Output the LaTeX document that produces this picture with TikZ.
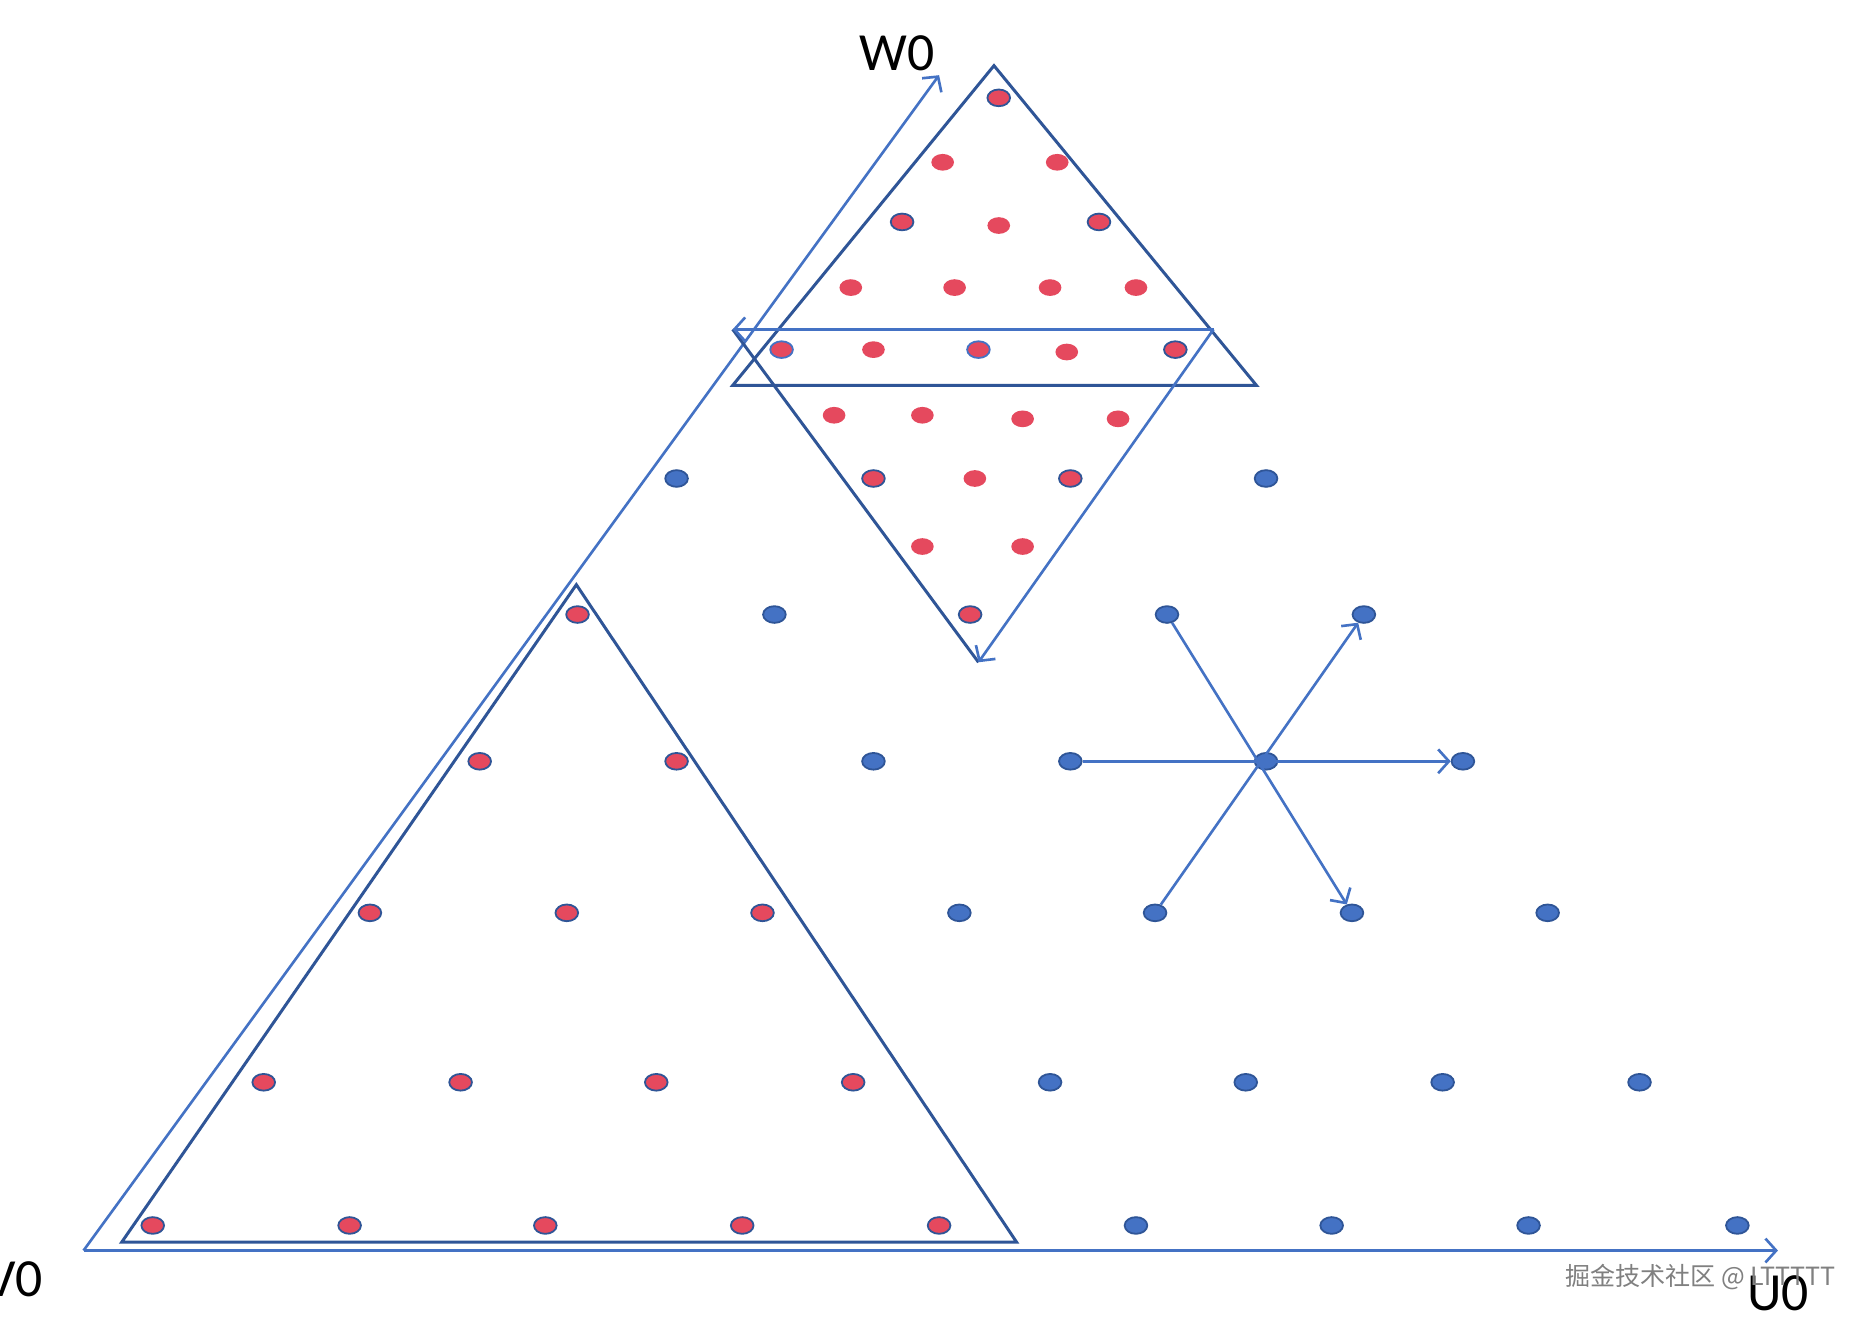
\documentclass[tikz,border=0pt]{standalone}
\usepackage{fontspec}
\setmainfont{Carlito}
\newfontfamily\cjkfont{Noto Sans CJK SC}
\usetikzlibrary{shapes.geometric,arrows.meta}
\definecolor{lblue}{HTML}{4472C4}
\definecolor{dblue}{HTML}{2F5597}
\definecolor{dotred}{HTML}{E5495E}
\begin{document}
\begin{tikzpicture}[x=1pt,y=-1pt,
  dotbase/.style={ellipse,inner sep=0pt,minimum width=19pt,minimum height=14pt},
  bdot/.style={dotbase,fill=lblue,draw=dblue,line width=1.5pt},
  rdot/.style={dotbase,fill=dotred,draw=dblue,line width=1.5pt},
  rldot/.style={dotbase,fill=dotred,draw=lblue,line width=1.5pt},
  pdot/.style={dotbase,fill=dotred},
  darkline/.style={draw=dblue,line width=2.5pt,line join=miter},
  lightline/.style={draw=lblue,line width=2.2pt},
  arr/.style={lightline,-{Straight Barb[length=9pt,width=20pt]}},
  lbl/.style={font=\fontsize{45}{50}\selectfont,text=black,inner sep=0pt}]
\useasboundingbox (0,0) rectangle (1568,1109);
\fill[white] (0,0) rectangle (1568,1109);

% ---- dots ----
\node[rdot]  (t1)  at (837,82)  {};
\node[pdot]  (t2)  at (790,136) {};
\node[pdot]  (t3)  at (886,136) {};
\node[rdot]  (t4)  at (756,186) {};
\node[pdot]  (t5)  at (837,189) {};
\node[rdot]  (t6)  at (921,186) {};
\node[pdot]  (t7)  at (713,241) {};
\node[pdot]  (t8)  at (800,241) {};
\node[pdot]  (t9)  at (880,241) {};
\node[pdot]  (t10) at (952,241) {};
\node[rldot] (t11) at (655,293) {};
\node[pdot]  (t12) at (732,293) {};
\node[rldot] (t13) at (820,293) {};
\node[pdot]  (t14) at (894,295) {};
\node[rdot]  (t15) at (985,293) {};
\node[pdot]  (t16) at (699,348) {};
\node[pdot]  (t17) at (773,348) {};
\node[pdot]  (t18) at (857,351) {};
\node[pdot]  (t19) at (937,351) {};
\node[bdot]  (a1)  at (567,401) {};
\node[rdot]  (a2)  at (732,401) {};
\node[pdot]  (a3)  at (817,401) {};
\node[rdot]  (a4)  at (897,401) {};
\node[bdot]  (a5)  at (1061,401) {};
\node[pdot]  (t20) at (773,458) {};
\node[pdot]  (t21) at (857,458) {};
\node[rdot]  (b1)  at (484,515) {};
\node[bdot]  (b2)  at (649,515) {};
\node[rdot]  (b3)  at (813,515) {};
\node[bdot]  (b4)  at (978,515) {};
\node[bdot]  (b5)  at (1143,515) {};
\node[rdot]  (c1)  at (402,638) {};
\node[rdot]  (c2)  at (567,638) {};
\node[bdot]  (c3)  at (732,638) {};
\node[bdot]  (c4)  at (897,638) {};
\node[bdot]  (c5)  at (1061,638) {};
\node[bdot]  (c6)  at (1226,638) {};
\node[rdot]  (e1)  at (310,765) {};
\node[rdot]  (e2)  at (475,765) {};
\node[rdot]  (e3)  at (639,765) {};
\node[bdot]  (e4)  at (804,765) {};
\node[bdot]  (e5)  at (968,765) {};
\node[bdot]  (e6)  at (1133,765) {};
\node[bdot]  (e7)  at (1297,765) {};
\node[rdot]  (f1)  at (221,907) {};
\node[rdot]  (f2)  at (386,907) {};
\node[rdot]  (f3)  at (550,907) {};
\node[rdot]  (f4)  at (715,907) {};
\node[bdot]  (f5)  at (880,907) {};
\node[bdot]  (f6)  at (1044,907) {};
\node[bdot]  (f7)  at (1209,907) {};
\node[bdot]  (f8)  at (1374,907) {};
\node[rdot]  (g1)  at (128,1027) {};
\node[rdot]  (g2)  at (293,1027) {};
\node[rdot]  (g3)  at (457,1027) {};
\node[rdot]  (g4)  at (622,1027) {};
\node[rdot]  (g5)  at (787,1027) {};
\node[bdot]  (g6)  at (952,1027) {};
\node[bdot]  (g7)  at (1116,1027) {};
\node[bdot]  (g8)  at (1281,1027) {};
\node[bdot]  (g9)  at (1456,1027) {};

% ---- axes ----
\coordinate (O) at (70,1048);
\coordinate (Uend) at (1490,1048);
\coordinate (Wend) at (787,63);
\draw[arr] (O) -- (Uend);
\draw[arr] (O) -- (Wend);

% ---- lower-left triangle ----
\coordinate (L1) at (102,1041);
\coordinate (L2) at (852,1041);
\coordinate (L3) at (483,490);
\draw[darkline] (L1) -- (L2) -- (L3) -- cycle;

% ---- top triangle ----
\coordinate (T1) at (833,55);
\coordinate (T2) at (1053,323);
\coordinate (T3) at (614,323);
\draw[darkline] (T1) -- (T2) -- (T3) -- cycle;

% ---- inverted triangle ----
\coordinate (I1) at (614,276);
\coordinate (I2) at (1017,276);
\coordinate (I3) at (820,555);
\draw[darkline] (I1) -- (I3);
\draw[arr] (I2) -- (I1);
\draw[arr] (I2) -- (I3);

% ---- star ----
\draw[arr] (c4) -- (c6);
\draw[arr] (b4) -- (e6);
\draw[arr] (e5) -- (b5);

% ---- labels ----
\node[lbl] (w0) at (752,45) {W0};
\node[lbl] (v0) at (12,1072) {V0};
\node[lbl] (u0) at (1490,1084) {U0};
\node[font=\cjkfont\fontsize{21}{24}\selectfont,text=black!50,inner sep=0pt] (wm) at (1425,1070) {掘金技术社区 @ LTTTTT};
\end{tikzpicture}
\end{document}
